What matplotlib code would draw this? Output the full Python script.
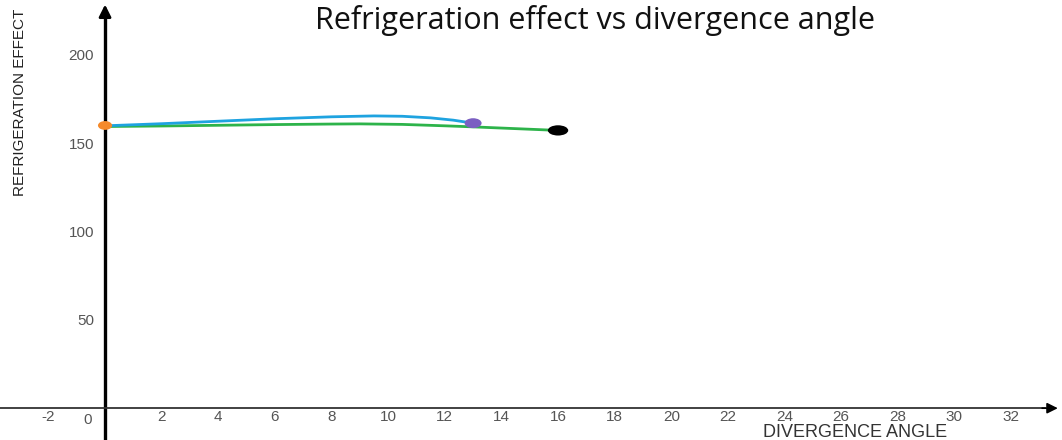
import matplotlib.pyplot as plt
from matplotlib.patches import Ellipse

# Refrigeration effect readings
angle_a = [0, 2, 4, 6, 8, 9.5, 10.5, 11.5, 12.3, 13]
effect_a = [159.8, 161.0, 162.4, 163.8, 164.9, 165.4, 165.2, 164.3, 163.0, 161.3]
angle_b = [0, 2, 4, 6, 8, 9, 10.5, 12, 13, 14.5, 16]
effect_b = [159.4, 159.7, 160.1, 160.5, 160.8, 160.9, 160.6, 159.8, 159.2, 158.2, 157.2]

# end points marked with dots
dot_x = [0, 13, 16]
dot_y = [160.0, 161.3, 157.2]
dot_colors = ['#f58a2b', '#7b5fc2', 'black']

x_ticks = [-2, 2, 4, 6, 8, 10, 12, 14, 16, 18, 20, 22, 24, 26, 28, 30, 32]
y_ticks = [50, 100, 150, 200]

fig = plt.figure(figsize=(10.62, 4.40), dpi=100)
ax = fig.add_axes([0, 0, 1, 1])
ax.set_xlim(-3.71, 33.8)
ax.set_ylim(-18, 231)

# axes through the origin, like the original sketch
for side in ['top', 'right']:
    ax.spines[side].set_visible(False)
ax.spines['left'].set_position(('data', 0))
ax.spines['bottom'].set_position(('data', 0))
ax.spines['left'].set_linewidth(2.4)
ax.spines['left'].set_color('black')
ax.spines['bottom'].set_linewidth(1.3)
ax.spines['bottom'].set_color('#333333')
ax.spines['left'].set_bounds(-18, 225)
ax.spines['bottom'].set_bounds(-3.71, 33.2)

ax.annotate('', xy=(0, 230), xytext=(0, 222),
            arrowprops=dict(arrowstyle='-|>', color='black', lw=2, mutation_scale=18))
ax.annotate('', xy=(33.75, 0), xytext=(33.0, 0),
            arrowprops=dict(arrowstyle='-|>', color='black', lw=1.2, mutation_scale=16))

ax.set_xticks(x_ticks)
ax.set_xticklabels([str(t) for t in x_ticks])
ax.set_yticks(y_ticks)
ax.set_yticklabels([str(t) for t in y_ticks])
ax.tick_params(length=0, labelsize=11, labelcolor='#555555')
ax.tick_params(axis='x', pad=1)
ax.tick_params(axis='y', pad=8)
for lab in ax.get_xticklabels() + ax.get_yticklabels():
    lab.set_family('Liberation Sans')
ax.text(-0.6, -2.5, '0', ha='center', va='top', fontsize=11, color='#555555',
        family='Liberation Sans')

# curves
ax.plot(angle_b, effect_b, color='#2db34a', lw=2, zorder=3, solid_capstyle='round')
ax.plot(angle_a, effect_a, color='#1ea3e0', lw=2, zorder=4, solid_capstyle='round')
dot_w = [0.5, 0.6, 0.72]
dot_h = [5.0, 5.6, 5.8]
for x, y, c, w, h in zip(dot_x, dot_y, dot_colors, dot_w, dot_h):
    ax.add_patch(Ellipse((x, y), w, h, color=c, zorder=5, lw=0))

ax.text(17.3, 219.5, 'Refrigeration effect vs divergence angle', ha='center', va='center',
        fontsize=22, family='Open Sans', color='#111111')
ax.text(-3.0, 173, 'REFRIGERATION EFFECT', rotation=90, ha='center', va='center',
        fontsize=11, family='Liberation Sans', color='#222222')
ax.text(26.5, -13.8, 'DIVERGENCE ANGLE', ha='center', va='center',
        fontsize=13, family='Liberation Sans', color='#333333')

fig.savefig('out.png', dpi=100)
